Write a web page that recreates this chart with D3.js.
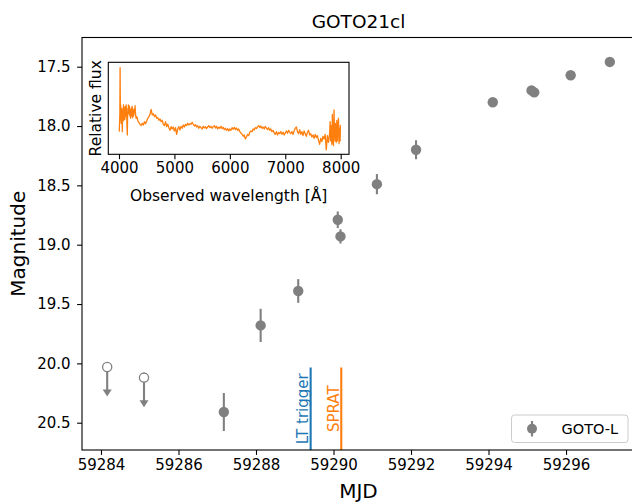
<!DOCTYPE html>
<html><head><meta charset="utf-8">
<script src="https://cdn.jsdelivr.net/npm/d3@7"></script>
<style>
html,body{margin:0;padding:0;background:#fff;}
svg{display:block;font-family:"DejaVu Sans",sans-serif;}
</style></head>
<body><svg id="chart" width="632" height="502"></svg>
<script>
// ---- data ----
const detMJD = [59287.17, 59288.12, 59289.09, 59290.11, 59290.18, 59291.12, 59292.13, 59294.11, 59295.11, 59295.18, 59296.12, 59297.13];
const detMag = [20.41, 19.68, 19.39, 18.79, 18.93, 18.49, 18.20, 17.80, 17.70, 17.716, 17.572, 17.46];
const detErr = [0.16, 0.14, 0.10, 0.07, 0.06, 0.085, 0.08, 0.03, 0.03, 0.03, 0.03, 0.03];
const limMJD = [59284.16, 59285.11];
const limMag = [20.03, 20.12];
const limArrow = 0.25;
const eventNames = ["LT trigger", "SPRAT"];
const eventMJD = [59289.41, 59290.20];
const eventColors = ["#1f77b4", "#ff7f0e"];
const xTicks = [59284, 59286, 59288, 59290, 59292, 59294, 59296];
const yTicks = [17.5, 18.0, 18.5, 19.0, 19.5, 20.0, 20.5];
const specTicks = [4000, 5000, 6000, 7000, 8000];
const specWave = [4005,4015,4020,4025,4030,4035,4040,4045,4050,4055,4060,4065,4070,4075,4080,4085,4090,4095,4100,4105,4110,4115,4120,4125,4130,4135,4140,4145,4150,4155,4160,4165,4170,4175,4180,4185,4190,4195,4200,4205,4210,4215,4220,4225,4230,4235,4240,4245,4250,4255,4260,4265,4270,4275,4280,4285,4290,4295,4300,4310,4325,4340,4360,4380,4400,4420,4440,4460,4480,4500,4520,4540,4560,4580,4600,4620,4640,4660,4680,4700,4720,4740,4760,4780,4800,4820,4840,4860,4880,4900,4920,4940,4960,4980,5000,5020,5040,5060,5080,5100,5120,5140,5160,5180,5200,5220,5240,5260,5280,5300,5320,5340,5360,5380,5400,5420,5440,5460,5480,5500,5520,5540,5560,5580,5600,5620,5640,5660,5680,5700,5720,5740,5760,5780,5800,5820,5840,5860,5880,5900,5920,5940,5960,5980,6000,6020,6040,6060,6080,6100,6120,6140,6160,6180,6200,6220,6240,6260,6280,6300,6320,6340,6360,6380,6400,6420,6440,6460,6480,6500,6520,6540,6560,6580,6600,6620,6640,6660,6680,6700,6720,6740,6760,6780,6800,6820,6840,6860,6880,6900,6920,6940,6960,6980,7000,7020,7040,7060,7080,7100,7120,7140,7160,7180,7200,7220,7240,7260,7280,7300,7320,7340,7360,7380,7400,7420,7440,7460,7480,7500,7520,7540,7560,7580,7600,7620,7640,7660,7680,7700,7720,7740,7760,7780,7800,7810,7820,7830,7840,7850,7860,7870,7880,7890,7900,7910,7920,7930,7940,7950,7960,7970,7980,7990,7995];
const specFlux = [0.68,1.18,2.60,1.28,1.48,1.10,0.93,1.30,1.38,1.05,0.68,1.20,1.33,1.00,1.48,1.25,1.03,1.40,1.23,1.05,1.43,1.12,1.28,1.45,1.48,1.20,1.13,0.80,0.58,1.10,1.38,1.20,1.48,1.30,1.23,1.45,1.43,1.15,1.33,1.20,1.08,1.30,1.38,1.15,1.23,1.44,1.40,1.10,1.13,1.30,1.33,1.15,1.23,1.36,1.38,1.25,1.46,1.30,1.18,1.08,1.12,1.00,0.95,0.90,0.86,0.93,0.88,0.98,0.92,1.00,1.08,1.13,1.20,1.35,1.18,1.22,1.13,1.18,1.08,1.10,1.02,1.06,0.98,1.02,0.90,0.86,0.98,0.83,0.90,0.80,0.72,0.83,0.76,0.82,0.70,0.80,0.60,0.76,0.83,0.73,0.84,0.78,0.88,0.82,0.90,0.86,0.93,0.88,0.92,0.90,0.96,0.90,0.85,0.89,0.82,0.86,0.78,0.84,0.80,0.76,0.84,0.79,0.83,0.77,0.82,0.86,0.80,0.84,0.78,0.83,0.86,0.79,0.84,0.76,0.82,0.78,0.84,0.77,0.81,0.74,0.78,0.72,0.77,0.70,0.76,0.72,0.80,0.75,0.81,0.74,0.79,0.72,0.76,0.68,0.64,0.60,0.54,0.58,0.46,0.52,0.60,0.56,0.66,0.70,0.68,0.76,0.73,0.80,0.77,0.83,0.86,0.80,0.85,0.78,0.82,0.76,0.84,0.78,0.74,0.80,0.72,0.76,0.68,0.72,0.64,0.60,0.68,0.58,0.66,0.62,0.68,0.60,0.66,0.58,0.64,0.70,0.63,0.72,0.66,0.62,0.68,0.60,0.70,0.78,0.82,0.68,0.62,0.74,0.60,0.68,0.56,0.70,0.62,0.54,0.66,0.72,0.58,0.62,0.52,0.58,0.48,0.60,0.50,0.56,0.42,0.30,0.48,0.38,0.54,0.46,0.60,0.13,0.56,0.36,0.62,0.98,0.40,0.86,0.30,1.20,0.42,0.26,1.33,0.58,0.40,0.93,0.36,1.02,0.40,0.83,1.08,0.32,0.78,0.40,0.88];

const grey = "#808080";
const svg = d3.select("#chart");
svg.append("rect").attr("width",632).attr("height",502).attr("fill","#fff");

// ---- main axes ----
const L = 82, R = 635, T = 37.5, B = 450;
const x = d3.scaleLinear().domain([59283.51, 59297.78]).range([L, R]);
const y = d3.scaleLinear().domain([17.254, 20.73]).range([T, B]);

// event lines (axvline ymax=0.2)
const evG = svg.append("g");
eventMJD.forEach((m,i)=>{
  const xx = x(m);
  evG.append("line").attr("x1",xx).attr("x2",xx).attr("y1",B).attr("y2",B-(B-T)*0.2)
    .attr("stroke",eventColors[i]).attr("stroke-width",2.1);
  evG.append("text").attr("transform",`translate(${xx-2.5},${B-(B-T)*0.1}) rotate(-90)`)
    .attr("text-anchor","middle").attr("font-size",15).attr("fill",eventColors[i]).text(eventNames[i]);
});

// detections
const dG = svg.append("g");
detMJD.forEach((m,i)=>{
  dG.append("line").attr("x1",x(m)).attr("x2",x(m)).attr("y1",y(detMag[i]-detErr[i])).attr("y2",y(detMag[i]+detErr[i]))
    .attr("stroke",grey).attr("stroke-width",2.1);
  dG.append("circle").attr("cx",x(m)).attr("cy",y(detMag[i])).attr("r",5.2).attr("fill",grey);
});
// upper limits
limMJD.forEach((m,i)=>{
  const cx = x(m), cy = y(limMag[i]), ty = y(limMag[i]+limArrow);
  dG.append("line").attr("x1",cx).attr("x2",cx).attr("y1",cy).attr("y2",ty-4)
    .attr("stroke",grey).attr("stroke-width",2.1);
  dG.append("path").attr("d",`M${cx-4.5},${ty-7}L${cx+4.5},${ty-7}L${cx},${ty}Z`).attr("fill",grey);
  dG.append("circle").attr("cx",cx).attr("cy",cy).attr("r",4.6).attr("fill","#fff").attr("stroke",grey).attr("stroke-width",1.3);
});

// axes
const xAxis = d3.axisBottom(x).tickValues(xTicks).tickFormat(d3.format("d")).tickSize(4.9).tickPadding(4.5);
const gx = svg.append("g").attr("transform",`translate(0,${B})`).call(xAxis);
gx.select(".domain").remove();
gx.selectAll("text").attr("font-size",15).attr("font-family","DejaVu Sans").attr("fill","#000");
gx.selectAll("line").attr("stroke","#000").attr("stroke-width",1.1);
const yAxis = d3.axisLeft(y).tickValues(yTicks).tickFormat(d3.format(".1f")).tickSize(4.9).tickPadding(6.5);
const gy = svg.append("g").attr("transform",`translate(${L},0)`).call(yAxis);
gy.select(".domain").remove();
gy.selectAll("text").attr("font-size",15).attr("font-family","DejaVu Sans").attr("fill","#000");
gy.selectAll("line").attr("stroke","#000").attr("stroke-width",1.1);
svg.append("rect").attr("x",L).attr("y",T).attr("width",R-L).attr("height",B-T)
  .attr("fill","none").attr("stroke","#000").attr("stroke-width",1.1);

svg.append("text").attr("x",(L+R)/2).attr("y",28).attr("text-anchor","middle").attr("font-size",18.5).text("GOTO21cl");
svg.append("text").attr("x",(L+R)/2).attr("y",497.5).attr("text-anchor","middle").attr("font-size",20).text("MJD");
svg.append("text").attr("transform",`translate(24.5,${(T+B)/2}) rotate(-90)`).attr("text-anchor","middle").attr("font-size",20).text("Magnitude");

// legend
const lg = svg.append("g");
lg.append("rect").attr("x",511.5).attr("y",415).attr("width",116.5).attr("height",27.5).attr("rx",3)
  .attr("fill","#fff").attr("fill-opacity",0.8).attr("stroke","#cccccc").attr("stroke-width",1);
lg.append("line").attr("x1",532).attr("x2",532).attr("y1",421).attr("y2",436.5).attr("stroke",grey).attr("stroke-width",2.1);
lg.append("circle").attr("cx",532).attr("cy",428.8).attr("r",5).attr("fill",grey);
lg.append("text").attr("x",561.5).attr("y",434).attr("font-size",14.5).text("GOTO-L");

// ---- inset spectrum ----
const iL = 108.3, iR = 349, iT = 62.3, iB = 154.3;
const sx = d3.scaleLinear().domain([3807, 8150]).range([iL, iR]);
const sy = d3.scaleLinear().domain([0, 2.76]).range([iB, iT]);
svg.append("rect").attr("x",iL).attr("y",iT).attr("width",iR-iL).attr("height",iB-iT).attr("fill","#fff");
const line = d3.line().x((d,i)=>sx(specWave[i])).y((d,i)=>sy(specFlux[i]));
svg.append("path").datum(specFlux).attr("d",line).attr("fill","none").attr("stroke","#ff7f0e").attr("stroke-width",1.3).attr("stroke-linejoin","round");
const gsx = svg.append("g").attr("transform",`translate(0,${iB})`)
  .call(d3.axisBottom(sx).tickValues(specTicks).tickFormat(d3.format("d")).tickSize(4.9).tickPadding(3.5));
gsx.select(".domain").remove();
gsx.selectAll("text").attr("font-size",15).attr("font-family","DejaVu Sans").attr("fill","#000");
gsx.selectAll("line").attr("stroke","#000").attr("stroke-width",1.1);
svg.append("rect").attr("x",iL).attr("y",iT).attr("width",iR-iL).attr("height",iB-iT)
  .attr("fill","none").attr("stroke","#000").attr("stroke-width",1.1);
svg.append("text").attr("x",(iL+iR)/2).attr("y",201).attr("text-anchor","middle").attr("font-size",15.5).text("Observed wavelength [Å]");
svg.append("text").attr("transform",`translate(101,${(iT+iB)/2}) rotate(-90)`).attr("text-anchor","middle").attr("font-size",15.5).text("Relative flux");
</script></body></html>
